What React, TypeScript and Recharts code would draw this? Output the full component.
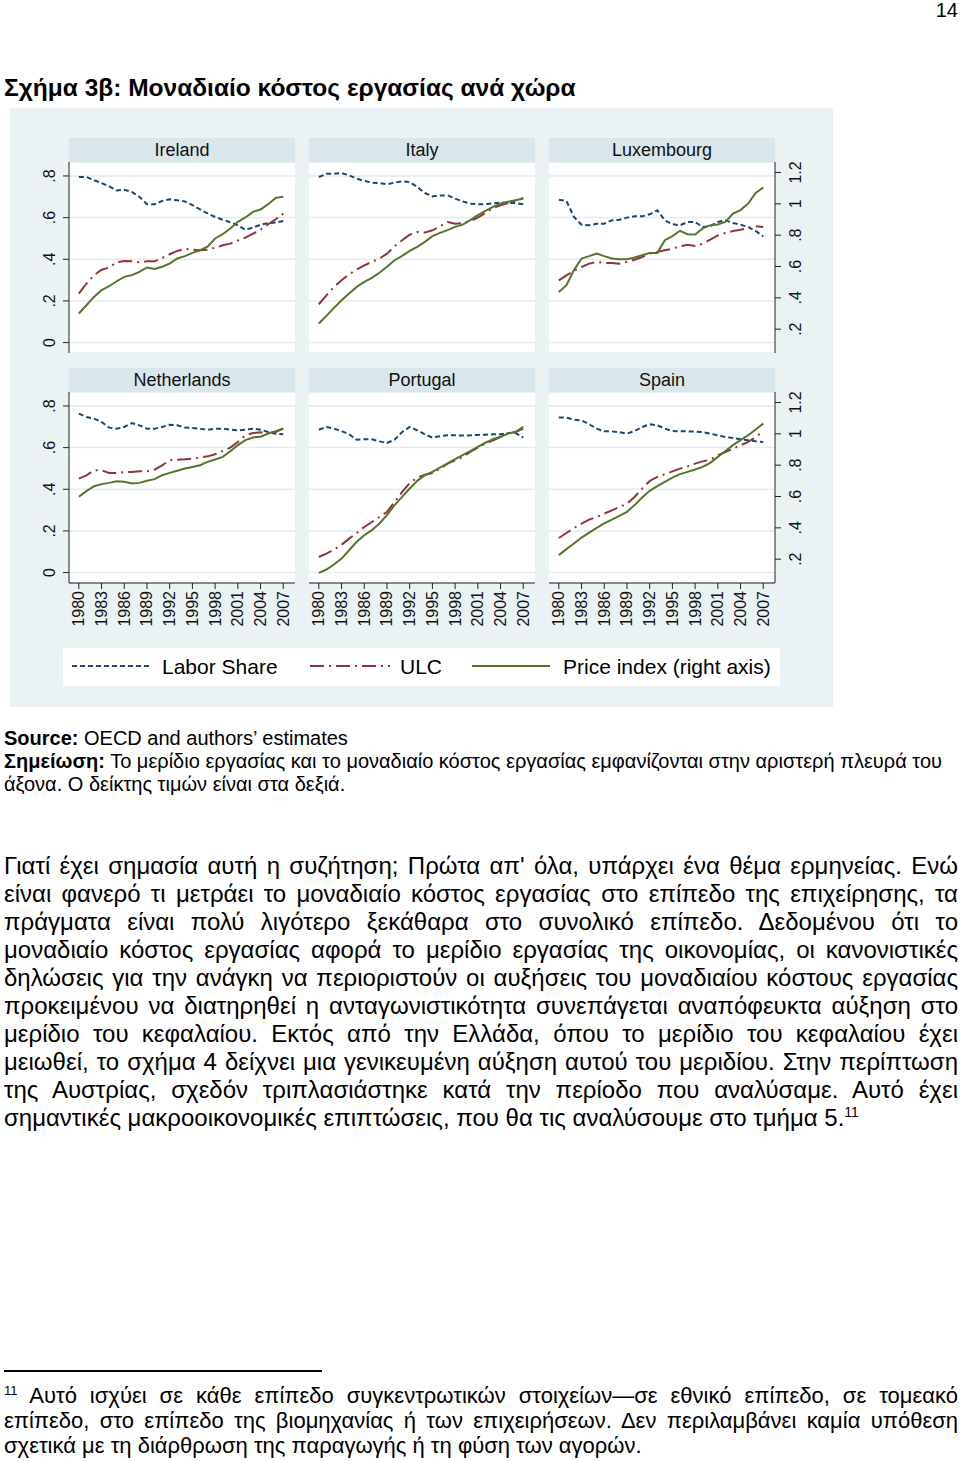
import { LineChart, Line, XAxis, YAxis, CartesianGrid } from 'recharts'

const years = [
  1980, 1981, 1982, 1983, 1984, 1985, 1986, 1987, 1988, 1989, 1990, 1991, 1992, 1993,
  1994, 1995, 1996, 1997, 1998, 1999, 2000, 2001, 2002, 2003, 2004, 2005, 2006, 2007,
]
const xTicks = [1980, 1983, 1986, 1989, 1992, 1995, 1998, 2001, 2004, 2007]
const leftTicks = [0, 0.2, 0.4, 0.6, 0.8]
const rightTicks = [0.2, 0.4, 0.6, 0.8, 1, 1.2]

const irelandLabor = [0.795, 0.795, 0.78, 0.766, 0.75, 0.73, 0.734, 0.723, 0.7, 0.664, 0.664, 0.68, 0.688, 0.683, 0.678, 0.66, 0.64, 0.62, 0.603, 0.59, 0.578, 0.563, 0.542, 0.552, 0.566, 0.574, 0.576, 0.584]
const irelandUlc = [0.235, 0.283, 0.323, 0.35, 0.36, 0.386, 0.392, 0.39, 0.386, 0.39, 0.39, 0.406, 0.424, 0.44, 0.45, 0.446, 0.443, 0.446, 0.456, 0.467, 0.475, 0.49, 0.504, 0.523, 0.542, 0.568, 0.592, 0.619]
const irelandPrice = [0.3, 0.353, 0.406, 0.449, 0.474, 0.506, 0.534, 0.545, 0.566, 0.594, 0.585, 0.598, 0.619, 0.651, 0.666, 0.687, 0.704, 0.726, 0.779, 0.806, 0.843, 0.885, 0.913, 0.949, 0.964, 0.998, 1.038, 1.045]

const italyLabor = [0.795, 0.81, 0.81, 0.814, 0.803, 0.787, 0.776, 0.768, 0.766, 0.76, 0.768, 0.774, 0.771, 0.747, 0.718, 0.702, 0.706, 0.707, 0.691, 0.678, 0.667, 0.664, 0.664, 0.669, 0.672, 0.67, 0.67, 0.664]
const italyUlc = [0.184, 0.227, 0.267, 0.299, 0.328, 0.35, 0.371, 0.387, 0.403, 0.427, 0.462, 0.491, 0.518, 0.531, 0.528, 0.539, 0.558, 0.579, 0.571, 0.574, 0.584, 0.6, 0.622, 0.645, 0.659, 0.67, 0.68, 0.694]
const italyPrice = [0.236, 0.285, 0.336, 0.385, 0.428, 0.47, 0.502, 0.528, 0.56, 0.598, 0.64, 0.668, 0.7, 0.726, 0.757, 0.794, 0.815, 0.832, 0.853, 0.868, 0.896, 0.928, 0.955, 0.981, 1.002, 1.013, 1.023, 1.034]

const luxLabor = [0.686, 0.68, 0.603, 0.566, 0.563, 0.571, 0.571, 0.587, 0.59, 0.6, 0.606, 0.606, 0.616, 0.635, 0.587, 0.568, 0.563, 0.579, 0.579, 0.555, 0.558, 0.579, 0.587, 0.574, 0.566, 0.555, 0.536, 0.51]
const luxUlc = [0.299, 0.323, 0.344, 0.363, 0.379, 0.387, 0.382, 0.382, 0.379, 0.387, 0.398, 0.411, 0.427, 0.435, 0.443, 0.451, 0.462, 0.47, 0.464, 0.475, 0.494, 0.515, 0.526, 0.536, 0.542, 0.55, 0.558, 0.555]
const luxPrice = [0.438, 0.481, 0.577, 0.651, 0.666, 0.683, 0.666, 0.651, 0.647, 0.647, 0.657, 0.672, 0.687, 0.687, 0.768, 0.794, 0.828, 0.806, 0.804, 0.843, 0.864, 0.868, 0.885, 0.938, 0.96, 1.002, 1.07, 1.104]

const nlLabor = [0.763, 0.747, 0.739, 0.723, 0.696, 0.691, 0.699, 0.718, 0.707, 0.691, 0.691, 0.699, 0.71, 0.707, 0.696, 0.694, 0.691, 0.686, 0.69, 0.691, 0.686, 0.683, 0.686, 0.691, 0.686, 0.675, 0.667, 0.664]
const nlUlc = [0.451, 0.467, 0.491, 0.491, 0.478, 0.478, 0.483, 0.483, 0.486, 0.486, 0.494, 0.515, 0.539, 0.542, 0.544, 0.547, 0.552, 0.558, 0.568, 0.584, 0.6, 0.627, 0.659, 0.67, 0.674, 0.67, 0.675, 0.691]
const nlPrice = [0.598, 0.634, 0.666, 0.679, 0.687, 0.698, 0.694, 0.683, 0.687, 0.7, 0.711, 0.736, 0.751, 0.764, 0.779, 0.789, 0.8, 0.821, 0.836, 0.853, 0.889, 0.928, 0.96, 0.977, 0.981, 1.002, 1.017, 1.034]

const ptLabor = [0.686, 0.699, 0.691, 0.68, 0.664, 0.638, 0.64, 0.64, 0.63, 0.622, 0.638, 0.675, 0.699, 0.683, 0.664, 0.648, 0.655, 0.659, 0.659, 0.658, 0.659, 0.661, 0.662, 0.664, 0.664, 0.67, 0.67, 0.648]
const ptUlc = [0.075, 0.091, 0.11, 0.134, 0.163, 0.19, 0.219, 0.243, 0.267, 0.291, 0.339, 0.387, 0.43, 0.456, 0.47, 0.478, 0.499, 0.523, 0.539, 0.555, 0.579, 0.6, 0.619, 0.635, 0.651, 0.667, 0.675, 0.691]
const ptPrice = [0.113, 0.134, 0.166, 0.204, 0.257, 0.311, 0.353, 0.385, 0.428, 0.481, 0.545, 0.598, 0.651, 0.7, 0.736, 0.757, 0.785, 0.811, 0.838, 0.864, 0.889, 0.917, 0.943, 0.966, 0.981, 1.002, 1.013, 1.045]

const esLabor = [0.744, 0.744, 0.734, 0.731, 0.712, 0.691, 0.678, 0.678, 0.674, 0.667, 0.68, 0.699, 0.712, 0.707, 0.691, 0.68, 0.678, 0.678, 0.677, 0.674, 0.667, 0.659, 0.651, 0.646, 0.64, 0.635, 0.63, 0.627]
const esUlc = [0.166, 0.19, 0.214, 0.235, 0.254, 0.267, 0.283, 0.299, 0.315, 0.331, 0.363, 0.403, 0.44, 0.459, 0.472, 0.486, 0.499, 0.51, 0.523, 0.534, 0.542, 0.563, 0.579, 0.595, 0.611, 0.627, 0.651, 0.68]
const esPrice = [0.226, 0.264, 0.3, 0.338, 0.37, 0.4, 0.428, 0.453, 0.477, 0.502, 0.545, 0.594, 0.636, 0.666, 0.694, 0.721, 0.743, 0.757, 0.772, 0.789, 0.815, 0.853, 0.891, 0.928, 0.96, 0.991, 1.028, 1.066]

const FONT = '"Liberation Sans", Arial, sans-serif'
const NAVY = '#1a476f'
const MAROON = '#90353b'
const GREEN = '#55752f'
const BG = '#eaf2f3'
const STRIP = '#d9e6eb'

const PLOT_W = 226
const PLOT_H = 191
const COL_LEFT = [69, 309, 549]
const ROW_TOP = [162, 392]

const fmt = (v: number) => String(Math.round(v * 10) / 10).replace(/^0\./, '.')

function LeftTick({ x, y, payload }: any) {
  const cx = x - 11
  return (
    <text x={cx} y={y} transform={`rotate(-90, ${cx}, ${y})`} textAnchor="middle" dominantBaseline="central"
      fontSize={16} fontFamily={FONT} fill="#111">
      {fmt(payload.value)}
    </text>
  )
}

function RightTick({ x, y, payload }: any) {
  const cx = x + 13
  return (
    <text x={cx} y={y} transform={`rotate(-90, ${cx}, ${y})`} textAnchor="middle" dominantBaseline="central"
      fontSize={16} fontFamily={FONT} fill="#111">
      {fmt(payload.value)}
    </text>
  )
}

function BottomTick({ x, y, payload }: any) {
  return (
    <text x={x} y={y} transform={`rotate(-90, ${x}, ${y})`} textAnchor="end" dominantBaseline="central"
      fontSize={16} fontFamily={FONT} fill="#111">
      {payload.value}
    </text>
  )
}

interface PanelProps {
  name: string
  labor: number[]
  ulc: number[]
  price: number[]
  col: number
  row: number
}

function Panel({ name, labor, ulc, price, col, row }: PanelProps) {
  const data = years.map((year, i) => ({ year, labor: labor[i], ulc: ulc[i], price: price[i] }))
  const showLeft = col === 0
  const showRight = col === 2
  const showX = row === 1
  const plotLeft = COL_LEFT[col]
  const plotTop = ROW_TOP[row]
  const width = PLOT_W + (showLeft ? 40 : 0) + (showRight ? 40 : 0)
  const height = PLOT_H + (showX ? 50 : 0)
  const axisStroke = '#222'

  return (
    <>
      <div
        style={{
          position: 'absolute', left: plotLeft, top: plotTop - 24, width: PLOT_W, height: 24,
          background: STRIP, fontSize: 18, lineHeight: '24px', textAlign: 'center', color: '#111',
        }}
      >
        {name}
      </div>
      <div style={{ position: 'absolute', left: plotLeft - (showLeft ? 40 : 0), top: plotTop }}>
        <LineChart width={width} height={height} data={data} margin={{ top: 0, right: 0, bottom: 0, left: 0 }}>
          <CartesianGrid vertical={false} stroke="#e3ebee" strokeWidth={1.5} fill="#fff" yAxisId="left" />
          <XAxis
            dataKey="year"
            type="number"
            domain={[1978.7, 2008.55]}
            ticks={xTicks}
            interval={0}
            hide={!showX}
            height={50}
            tickSize={6}
            tickMargin={2}
            tick={<BottomTick />}
            axisLine={{ stroke: axisStroke }}
            tickLine={{ stroke: axisStroke }}
            allowDataOverflow
          />
          <YAxis
            yAxisId="left"
            type="number"
            domain={[-0.05, 0.867]}
            ticks={leftTicks}
            interval={0}
            hide={!showLeft}
            width={40}
            tickSize={6}
            tickMargin={2}
            tick={<LeftTick />}
            axisLine={{ stroke: axisStroke }}
            tickLine={{ stroke: axisStroke }}
            allowDataOverflow
          />
          <YAxis
            yAxisId="right"
            orientation="right"
            type="number"
            domain={[0.048, 1.267]}
            ticks={rightTicks}
            interval={0}
            hide={!showRight}
            width={40}
            tickSize={6}
            tickMargin={2}
            tick={<RightTick />}
            axisLine={{ stroke: axisStroke }}
            tickLine={{ stroke: axisStroke }}
            allowDataOverflow
          />
          <Line yAxisId="left" type="linear" dataKey="labor" stroke={NAVY} strokeWidth={2}
            strokeDasharray="5 3" dot={false} isAnimationActive={false} />
          <Line yAxisId="left" type="linear" dataKey="ulc" stroke={MAROON} strokeWidth={2}
            strokeDasharray="14 5 2 5" dot={false} isAnimationActive={false} />
          <Line yAxisId="right" type="linear" dataKey="price" stroke={GREEN} strokeWidth={2}
            dot={false} isAnimationActive={false} />
        </LineChart>
      </div>
    </>
  )
}

const paragraphLines = [
  'Γιατί έχει σημασία αυτή η συζήτηση; Πρώτα απ\' όλα, υπάρχει ένα θέμα ερμηνείας. Ενώ',
  'είναι φανερό τι μετράει το μοναδιαίο κόστος εργασίας στο επίπεδο της επιχείρησης, τα',
  'πράγματα είναι πολύ λιγότερο ξεκάθαρα στο συνολικό επίπεδο. Δεδομένου ότι το',
  'μοναδιαίο κόστος εργασίας αφορά το μερίδιο εργασίας της οικονομίας, οι κανονιστικές',
  'δηλώσεις για την ανάγκη να περιοριστούν οι αυξήσεις του μοναδιαίου κόστους εργασίας',
  'προκειμένου να διατηρηθεί η ανταγωνιστικότητα συνεπάγεται αναπόφευκτα αύξηση στο',
  'μερίδιο του κεφαλαίου. Εκτός από την Ελλάδα, όπου το μερίδιο του κεφαλαίου έχει',
  'μειωθεί, το σχήμα 4 δείχνει μια γενικευμένη αύξηση αυτού του μεριδίου. Στην περίπτωση',
  'της Αυστρίας, σχεδόν τριπλασιάστηκε κατά την περίοδο που αναλύσαμε. Αυτό έχει',
]
const paragraphLast = 'σημαντικές μακροοικονομικές επιπτώσεις, που θα τις αναλύσουμε στο τμήμα 5.'

export default function App() {
  const justify: React.CSSProperties = { textAlign: 'justify', textAlignLast: 'justify' }
  return (
    <div
      style={{
        position: 'absolute', left: 0, top: 0, width: 960, height: 1461, background: '#fff',
        fontFamily: FONT, color: '#000', overflow: 'hidden',
      }}
    >
      <div style={{ position: 'absolute', right: 2, top: -1, fontSize: 20, lineHeight: '22px' }}>14</div>
      <div style={{ position: 'absolute', left: 4, top: 74, fontSize: 24.5, fontWeight: 'bold', lineHeight: '28px', whiteSpace: 'nowrap' }}>
        Σχήμα 3β: Μοναδιαίο κόστος εργασίας ανά χώρα
      </div>

      <div style={{ position: 'absolute', left: 10, top: 108, width: 823, height: 599, background: BG }} />

      <Panel name="Ireland" labor={irelandLabor} ulc={irelandUlc} price={irelandPrice} col={0} row={0} />
      <Panel name="Italy" labor={italyLabor} ulc={italyUlc} price={italyPrice} col={1} row={0} />
      <Panel name="Luxembourg" labor={luxLabor} ulc={luxUlc} price={luxPrice} col={2} row={0} />
      <Panel name="Netherlands" labor={nlLabor} ulc={nlUlc} price={nlPrice} col={0} row={1} />
      <Panel name="Portugal" labor={ptLabor} ulc={ptUlc} price={ptPrice} col={1} row={1} />
      <Panel name="Spain" labor={esLabor} ulc={esUlc} price={esPrice} col={2} row={1} />

      <div style={{ position: 'absolute', left: 63, top: 648, width: 717, height: 38, background: '#fff' }}>
        <svg width={717} height={38} style={{ position: 'absolute', left: 0, top: 0 }}>
          <line x1={9} x2={87} y1={18} y2={18} stroke={NAVY} strokeWidth={2} strokeDasharray="5 3" />
          <line x1={247} x2={327} y1={18} y2={18} stroke={MAROON} strokeWidth={2} strokeDasharray="14 5 2 5" />
          <line x1={409} x2={487} y1={18} y2={18} stroke={GREEN} strokeWidth={2} />
        </svg>
        <div style={{ position: 'absolute', left: 99, top: 6, fontSize: 21, lineHeight: '26px', whiteSpace: 'nowrap' }}>Labor Share</div>
        <div style={{ position: 'absolute', left: 337, top: 6, fontSize: 21, lineHeight: '26px', whiteSpace: 'nowrap' }}>ULC</div>
        <div style={{ position: 'absolute', left: 500, top: 6, fontSize: 21, lineHeight: '26px', whiteSpace: 'nowrap' }}>Price index (right axis)</div>
      </div>

      <div style={{ position: 'absolute', left: 4, top: 727, fontSize: 20, lineHeight: '23px', whiteSpace: 'nowrap' }}>
        <b>Source:</b> OECD and authors’ estimates
      </div>
      <div style={{ position: 'absolute', left: 4, top: 750, fontSize: 20, lineHeight: '23px', whiteSpace: 'nowrap' }}>
        <b>Σημείωση:</b> Το μερίδιο εργασίας και το μοναδιαίο κόστος εργασίας εμφανίζονται στην αριστερή πλευρά του
      </div>
      <div style={{ position: 'absolute', left: 4, top: 773, fontSize: 20, lineHeight: '23px', whiteSpace: 'nowrap' }}>
        άξονα. Ο δείκτης τιμών είναι στα δεξιά.
      </div>

      {paragraphLines.map((t, i) => (
        <div key={i} style={{ position: 'absolute', left: 4, top: 852 + i * 28, width: 954, fontSize: 24, lineHeight: '28px', ...justify }}>
          {t}
        </div>
      ))}
      <div style={{ position: 'absolute', left: 4, top: 852 + 9 * 28, width: 954, fontSize: 24, lineHeight: '28px', whiteSpace: 'nowrap' }}>
        {paragraphLast}
        <sup style={{ fontSize: 14, lineHeight: 0 }}>11</sup>
      </div>

      <div style={{ position: 'absolute', left: 4, top: 1370, width: 318, height: 1.5, background: '#000' }} />
      <div style={{ position: 'absolute', left: 4, top: 1383, width: 954, fontSize: 22, lineHeight: '25px', ...justify }}>
        <sup style={{ fontSize: 13, lineHeight: 0 }}>11</sup> Αυτό ισχύει σε κάθε επίπεδο συγκεντρωτικών στοιχείων—σε εθνικό επίπεδο, σε τομεακό
      </div>
      <div style={{ position: 'absolute', left: 4, top: 1408, width: 954, fontSize: 22, lineHeight: '25px', ...justify }}>
        επίπεδο, στο επίπεδο της βιομηχανίας ή των επιχειρήσεων. Δεν περιλαμβάνει καμία υπόθεση
      </div>
      <div style={{ position: 'absolute', left: 4, top: 1433, fontSize: 22, lineHeight: '25px', whiteSpace: 'nowrap' }}>
        σχετικά με τη διάρθρωση της παραγωγής ή τη φύση των αγορών.
      </div>
    </div>
  )
}
